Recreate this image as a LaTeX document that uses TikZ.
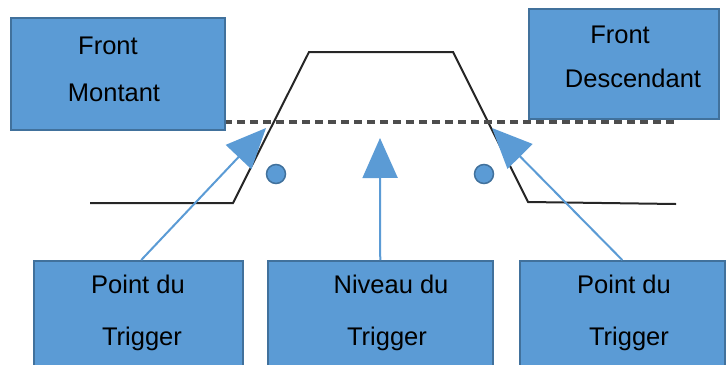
\documentclass[tikz,border=0pt]{standalone}
\usepackage{fontspec}
\setmainfont{Liberation Sans}
\usetikzlibrary{arrows.meta,calc}
\definecolor{boxblue}{HTML}{5B9BD5}
\definecolor{boxedge}{HTML}{41719C}
\definecolor{wavecol}{HTML}{262626}
\definecolor{dashcol}{HTML}{4D4D4D}
\begin{document}
\begin{tikzpicture}[x=1pt,y=-1pt,
  box/.style={draw=boxedge, fill=boxblue, line width=1.5pt, rectangle, inner sep=0pt, anchor=north west},
  lbl/.style={anchor=base, inner sep=0pt, font=\fontsize{25.5}{30}\selectfont},
  ptr/.style={draw=boxblue, line width=2pt, -{Triangle[width=35pt,length=40pt]}},
  dotmark/.style={circle, draw=boxedge, fill=boxblue, line width=1.5pt, minimum size=19pt, inner sep=0pt}]
\useasboundingbox (0,0) rectangle (727,364);
% waveform
\draw[wavecol, line width=2pt, line join=miter] (90,203) -- (233,203) -- (309,52) -- (453,52) -- (528,202) -- (676,204);
% trigger level
\draw[dashcol, line width=3.5pt, dash pattern=on 8pt off 5pt] (224,122) -- (677,122);
% circles
\node[dotmark] (c1) at (276,174) {};
\node[dotmark] (c2) at (484,174) {};
% boxes
\node[box, minimum width=214pt, minimum height=112pt] (fm) at (10,17) {};
\node[box, minimum width=190pt, minimum height=110pt] (fd) at (528,8) {};
\node[box, minimum width=209pt, minimum height=110pt] (pt1) at (33,260) {};
\node[box, minimum width=225pt, minimum height=110pt] (nt) at (267,260) {};
\node[box, minimum width=205pt, minimum height=110pt] (pt2) at (519,260) {};
% texts
\node[lbl] (fm1) at (108,54) {Front};
\node[lbl] (fm2) at (114,101) {Montant};
\node[lbl] (fd1) at (620,43) {Front};
\node[lbl] (fd2) at (633,87) {Descendant};
\node[lbl] (p11) at (138,293) {Point du};
\node[lbl] (p12) at (142,345) {Trigger};
\node[lbl] (n1) at (391,293) {Niveau du};
\node[lbl] (n2) at (387,345) {Trigger};
\node[lbl] (p21) at (624,293) {Point du};
\node[lbl] (p22) at (629,345) {Trigger};
% arrow tips
\coordinate (tipL) at (266,128);
\coordinate (tipM) at (380,138);
\coordinate (tipR) at (492,128);
\draw[ptr] ($(pt1.north)+(3,0)$) -- (tipL);
\draw[ptr] (nt.north) -- (tipM);
\draw[ptr] (pt2.north) -- (tipR);
\end{tikzpicture}
\end{document}
